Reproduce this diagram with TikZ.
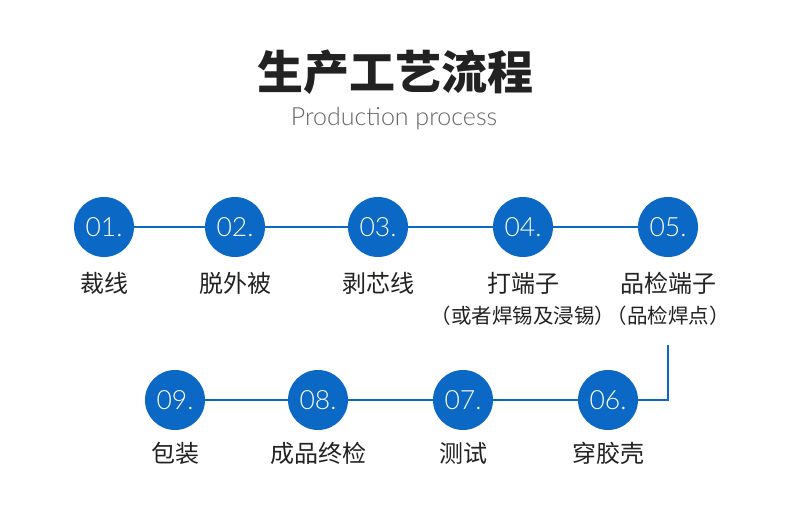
\documentclass[tikz,border=0pt]{standalone}
\usepackage{fontspec}
\usepackage{xcolor}
\setmainfont{Lato}
\newfontfamily\cjk{Noto Sans CJK SC}
\newfontfamily\thin{Lato Light}
\usetikzlibrary{positioning}
\definecolor{flow}{HTML}{0B68C4}
\definecolor{ink}{HTML}{222222}
\definecolor{muted}{HTML}{666666}
\tikzset{
  num/.style={circle, fill=flow, minimum size=60pt, inner sep=0pt, text=white, font=\thin\fontsize{26.5}{26.5}\selectfont},
  link/.style={draw=flow, line width=1.3pt},
  lab/.style={text=ink, font=\cjk\fontsize{24}{24}\selectfont},
  sub/.style={text=ink, font=\cjk\fontsize{20.5}{20.5}\selectfont},
}

\begin{document}
\begin{tikzpicture}[x=1pt,y=-1pt]
  \useasboundingbox[fill=white] (0,0) rectangle (790,525);
  \node[text=ink, font=\cjk\bfseries\fontsize{46}{46}\selectfont] (title) at (395,72) {生产工艺流程};
  \node[text=muted, font=\thin\fontsize{25}{25}\selectfont] (subtitle) at (394,119) {Production process};

  % top row
  \foreach \i/\x/\txt in {1/104/裁线,2/235/脱外被,3/378/剥芯线,4/523/打端子,5/668/品检端子}{
    \node[num] (s\i) at (\x,227) {0\i.};
    \node[lab] (l\i) at (\x,283) {\txt};
  }
  \node[sub] (n4) at (523,316) {（或者焊锡及浸锡）};
  \node[sub] (n5) at (668,316) {（品检焊点）};

  % bottom row
  \foreach \i/\x/\txt in {6/608/穿胶壳,7/463/测试,8/318/成品终检,9/175/包装}{
    \node[num] (s\i) at (\x,400) {0\i.};
    \node[lab] (l\i) at (\x,453) {\txt};
  }

  \draw[link] (s1) -- (s2) (s2) -- (s3) (s3) -- (s4) (s4) -- (s5);
  \coordinate (turn) at (668,345);
  \draw[link] (s6) -| (turn);
  \draw[link] (s6) -- (s7) (s7) -- (s8) (s8) -- (s9);
\end{tikzpicture}
\end{document}
